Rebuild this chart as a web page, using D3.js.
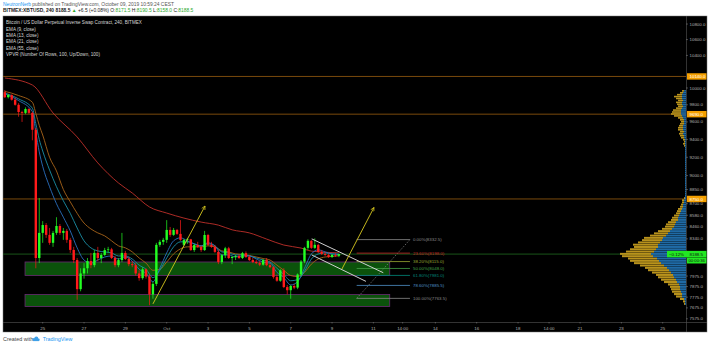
<!DOCTYPE html>
<html>
<head>
<meta charset="utf-8">
<title>XBTUSD 240</title>
<script src="https://cdn.jsdelivr.net/npm/d3@7/dist/d3.min.js"></script>
<style>
body { margin:0; background:#fff; }
svg { display:block; font-family:"Liberation Sans", Arial, sans-serif; }
</style>
</head>
<body>
<script>
// ---- data ----
var barStart = Date.UTC(2019, 8, 23, 4); // first 4h bar
var open  = [9950,9890,9915,9860,9800,9715,9705,9750,9705,9510,8150,8400,8480,8380,8300,8400,8470,8400,8420,8330,8230,8130,7850,8000,8050,8120,8080,8200,8150,8180,8228,8235,8150,8080,8130,8200,8140,8090,8080,8000,7955,8040,7970,7800,7900,8280,8310,8330,8430,8380,8430,8390,8280,8328,8335,8228,8278,8260,8228,8379,8280,8260,8210,8110,8178,8245,8150,8160,8170,8150,8198,8160,8130,8110,8100,8085,8130,8080,8060,7965,7930,8030,7870,7840,7880,7865,7990,8115,8250,8320,8250,8280,8210,8190,8180,8160,8180,8171.5];
var high  = [9975,9930,9925,9885,9820,9730,9770,9760,9720,9530,8760,8520,8500,8450,8420,8560,8490,8450,8440,8350,8260,8150,8050,8100,8150,8200,8230,8260,8200,8250,8260,8250,8170,8150,8400,8220,8160,8120,8100,8030,8060,8050,7990,7920,8300,8330,8350,8530,8460,8450,8440,8530,8340,8350,8340,8290,8310,8275,8420,8390,8310,8280,8230,8190,8260,8260,8170,8180,8190,8210,8215,8180,8150,8130,8120,8140,8150,8100,8070,7990,8040,8050,7890,7890,7900,8000,8130,8260,8335,8330,8345,8290,8230,8210,8195,8190,8195,8190.5];
var low   = [9880,9875,9850,9790,9660,9600,9690,9690,9390,8050,8100,8300,8350,8280,8260,8380,8380,8330,8300,8200,8100,7750,7830,7950,8000,8050,8060,8120,8100,8170,8200,8140,8060,8060,8110,8130,8070,8060,7980,7930,7940,7950,7700,7760,7880,8260,8280,8300,8360,8370,8380,8320,8270,8290,8220,8210,8250,8210,8220,8270,8250,8200,8090,8090,8150,8140,8090,8130,8140,8140,8150,8120,8100,8090,8070,8075,8070,8050,7950,7920,7920,7860,7800,7760,7850,7850,7970,8100,8230,8240,8240,8200,8180,8170,8150,8150,8160,8158];
var close = [9890,9915,9860,9800,9715,9705,9750,9705,9510,8150,8400,8480,8380,8300,8400,8470,8400,8420,8330,8230,8130,7850,8000,8050,8120,8080,8200,8150,8180,8228,8235,8150,8080,8130,8200,8140,8090,8080,8000,7955,8040,7970,7800,7900,8280,8310,8330,8430,8380,8430,8390,8330,8328,8335,8228,8278,8260,8228,8379,8280,8260,8210,8110,8178,8245,8150,8160,8170,8150,8198,8160,8130,8110,8100,8085,8130,8080,8060,7965,7930,8030,7870,7840,7880,7865,7990,8115,8250,8320,8250,8280,8210,8190,8180,8160,8180,8172,8188.5];

// EMA lines: [bar index, price]
var ema9  = [[0,9930],[4,9850],[8,9720],[9,9480],[10,9260],[11,9100],[13,8880],[15,8700],[17,8560],[19,8420],[21,8250],[23,8130],[25,8100],[27,8130],[29,8160],[31,8170],[33,8140],[35,8160],[37,8120],[39,8040],[41,8000],[43,7920],[45,8050],[47,8200],[49,8320],[51,8350],[53,8320],[55,8290],[57,8270],[59,8300],[61,8270],[63,8180],[65,8180],[67,8160],[69,8170],[71,8170],[73,8140],[75,8110],[77,8100],[79,8010],[81,7960],[83,7890],[85,7920],[87,8050],[89,8190],[91,8230],[93,8210],[95,8190],[97,8185]];
var ema13 = [[0,9940],[4,9870],[8,9760],[9,9580],[10,9400],[11,9270],[13,9060],[15,8880],[17,8730],[19,8600],[21,8450],[23,8320],[25,8250],[27,8220],[29,8210],[31,8200],[33,8170],[35,8170],[37,8140],[39,8080],[41,8040],[43,7960],[45,8030],[47,8150],[49,8260],[51,8310],[53,8310],[55,8290],[57,8270],[59,8290],[61,8270],[63,8210],[65,8200],[67,8180],[69,8180],[71,8170],[73,8150],[75,8130],[77,8110],[79,8050],[81,7990],[83,7930],[85,7940],[87,8020],[89,8140],[91,8190],[93,8200],[95,8190],[97,8188]];
var ema21 = [[0,9960],[4,9910],[8,9830],[9,9700],[10,9560],[11,9450],[13,9200],[15,9050],[17,8850],[19,8720],[21,8600],[23,8500],[25,8440],[27,8400],[29,8370],[31,8320],[33,8270],[35,8250],[37,8210],[39,8150],[41,8100],[43,8030],[45,8040],[47,8110],[49,8190],[51,8240],[53,8260],[55,8260],[57,8260],[59,8270],[61,8260],[63,8220],[65,8210],[67,8190],[69,8185],[71,8175],[73,8160],[75,8145],[77,8130],[79,8080],[81,8030],[83,7980],[85,7970],[87,8010],[89,8090],[91,8140],[93,8160],[95,8165],[97,8172]];
var ema55 = [[0,10121],[8,10036],[14,9704],[21,9428],[27,9138],[33,8920],[37,8813],[42,8666],[47,8603],[52,8551],[57,8510],[62,8479],[66,8431],[71,8400],[76,8338],[81,8278],[86,8248],[89,8218],[97,8201]];

// volume profile, 100 rows from low to high
var vpLow = 7700, vpHigh = 9975;
var vpUp   = [1,1,2,4,4,5,6,6,7,9,10,12,13,15,17,19,22,25,27,29,33,35,32,30,28,28,26,24,23,20,18,16,14,12,11,10,8,8,7,6,5,4,3,3,2,2,1,1,1,1,1,1,1,1,1,1,1,1,1,1,1,1,1,1,1,1,1,1,1,1,1,1,1,1,1,2,2,3,2,3,3,3,2,2,2,3,4,5,5,5,4,3,4,4,3,4,4,4,3,2];
var vpDown = [1,2,4,6,8,9,9,10,11,13,15,16,17,19,21,22,24,27,29,29,31,31,28,26,24,25,22,20,19,16,14,12,10,9,9,8,7,6,5,4,4,4,3,2,2,2,1,0,0,0,0,0,0,0,0,0,0,0,0,0,0,0,0,0,0,0,0,0,0,0,0,1,2,1,2,3,4,4,4,5,5,4,4,3,4,5,8,10,9,8,6,5,5,6,5,6,8,5,3,2];

var levels = [10140, 9690, 8750];
var lastPrice = 8188.5;

var priceTicks = [10800,10600,10400,10000,9800,9600,9400,9200,9000,8850,8700,8580,8460,8340,7975,7875,7775,7675,7575];
var timeTicks = [[2019,8,25,0],[2019,8,27,0],[2019,8,29,0],[2019,9,1,0],[2019,9,3,0],[2019,9,5,0],[2019,9,7,0],[2019,9,9,0],[2019,9,11,0],[2019,9,12,10],[2019,9,14,0],[2019,9,16,0],[2019,9,18,0],[2019,9,19,12],[2019,9,21,0],[2019,9,23,0],[2019,9,25,0]];
var timeLabels = ["25","27","29","Oct","3","5","7","9","11","14:00","14","16","18","14:00","21","23","25"];

// drawings: [time (y,m,d,h), price]
var boxes = [[[2019,8,24,3.5],8111,[2019,9,11,19],7980],[[2019,8,24,3.5],7800,[2019,9,11,19],7688]];
var arrows = [[[2019,8,30,8],7712,[2019,9,2,20.5],8676],[[2019,9,9,11.5],8043,[2019,9,11,0.7],8661]];
var channel = [[[2019,9,8,0.4],8340,[2019,9,11,11.5],8007],[[2019,9,8,0.4],8180,[2019,9,10,15.4],7924]];
var fibFrom = [2019,9,10,4.6], fibTo = [2019,9,12,18.5];
var fibPct = ["0.00%","23.60%","38.20%","50.00%","61.80%","78.60%","100.00%"];
var fibPrice = [8332.5,8198.0,8115.0,8048.0,7981.0,7885.5,7763.5];
var fibColor = ["#8a8a8a","#c62828","#9aa832","#43a047","#00897b","#4f92c9","#8a8a8a"];

// ---- layout ----
var W = 710, H = 346;
var plot = {left:3, right:686, top:16, bottom:322};
var panel = {right:707, bottom:332};

function utc(a) { return new Date(Date.UTC(a[0], a[1], a[2], 0) + a[3]*3600e3); }

var svg = d3.select("body").append("svg").attr("width", W).attr("height", H);
svg.append("rect").attr("width", W).attr("height", H).attr("fill", "#fff");

var x = d3.scaleUtc().domain([utc([2019,8,25,0]), utc([2019,9,25,0])]).range([42.7, 662.7]);
var y = d3.scaleLog().domain([10000, 7575]).range([88, 318.8]);
var barX = function(i) { return x(new Date(barStart + i*4*3600e3)); };

// header
var hdr = svg.append("g").attr("font-size", "4.9px");
var t1 = hdr.append("text").attr("x", 3).attr("y", 6.4).attr("fill", "#555");
t1.append("tspan").attr("fill", "#2196f3").text("NeutronNerb");
t1.append("tspan").text(" published on TradingView.com, October 09, 2019 10:59:24 CEST");
var t2 = hdr.append("text").attr("x", 3).attr("y", 12.4).attr("fill", "#222");
t2.append("tspan").attr("font-weight", "bold").text("BITMEX:XBTUSD, 240 8188.5 ");
t2.append("tspan").attr("fill", "#2eaa2e").text("\u25B2");
t2.append("tspan").text(" +6.5 (+0.08%) O:");
t2.append("tspan").attr("fill", "#2eaa2e").text("8171.5");
t2.append("tspan").text(" H:");
t2.append("tspan").attr("fill", "#2eaa2e").text("8190.5");
t2.append("tspan").text(" L:");
t2.append("tspan").attr("fill", "#2eaa2e").text("8158.0");
t2.append("tspan").text(" C:");
t2.append("tspan").attr("fill", "#2eaa2e").text("8188.5");

// panel
svg.append("rect").attr("x", plot.left).attr("y", plot.top)
  .attr("width", panel.right - plot.left).attr("height", panel.bottom - plot.top)
  .attr("fill", "#000").attr("stroke", "#777").attr("stroke-width", 0.5);

svg.append("clipPath").attr("id", "clip").append("rect")
  .attr("x", plot.left).attr("y", plot.top)
  .attr("width", plot.right - plot.left).attr("height", plot.bottom - plot.top);
var g = svg.append("g").attr("clip-path", "url(#clip)");

// horizontal levels
g.selectAll(".lvl").data(levels).join("line")
  .attr("x1", plot.left).attr("x2", plot.right)
  .attr("y1", d => y(d)).attr("y2", d => y(d))
  .attr("stroke", "#7a4a0c").attr("stroke-width", 1);
g.append("line").attr("x1", plot.left).attr("x2", plot.right)
  .attr("y1", y(lastPrice)).attr("y2", y(lastPrice))
  .attr("stroke", "#1f6b1f").attr("stroke-width", 0.8);

// volume profile
var vpStep = (vpHigh - vpLow) / vpUp.length;
var vx = d3.scaleLinear().domain([0, d3.max(vpUp.map((u, k) => u + vpDown[k]))]).range([0, 66]);
var vp = g.append("g");
vpUp.forEach(function(u, k) {
  var lo = vpLow + k*vpStep, hi = lo + vpStep;
  var y0 = y(hi), hgt = Math.max(0.6, y(lo) - y(hi) - 0.3);
  vp.append("rect").attr("x", plot.right - vx(u)).attr("y", y0).attr("width", vx(u)).attr("height", hgt).attr("fill", "#1f6aa5");
  vp.append("rect").attr("x", plot.right - vx(u) - vx(vpDown[k])).attr("y", y0).attr("width", vx(vpDown[k])).attr("height", hgt).attr("fill", "#b8921c");
});

// boxes
g.selectAll(".box").data(boxes).join("rect")
  .attr("x", d => x(utc(d[0]))).attr("y", d => y(d[1]))
  .attr("width", d => x(utc(d[2])) - x(utc(d[0])))
  .attr("height", d => y(d[3]) - y(d[1]))
  .attr("fill", "#0b520b").attr("stroke", "#6a2a74").attr("stroke-width", 0.8);

// EMAs
var emaLine = d3.line().x(d => barX(d[0])).y(d => y(d[1])).curve(d3.curveMonotoneX);
[[ema55, "#c0302a"], [ema21, "#a8641a"], [ema13, "#1b8fa6"], [ema9, "#2a6fc0"]].forEach(function(e) {
  g.append("path").datum(e[0]).attr("d", emaLine).attr("fill", "none").attr("stroke", e[1]).attr("stroke-width", 0.9);
});

// candles
var bw = 2.4;
var candles = g.append("g");
open.forEach(function(o, i) {
  var c = close[i], col = c >= o ? "#22ff22" : "#ff1a1a", cx = barX(i);
  candles.append("line").attr("x1", cx).attr("x2", cx).attr("y1", y(high[i])).attr("y2", y(low[i]))
    .attr("stroke", col).attr("stroke-width", 0.7);
  candles.append("rect").attr("x", cx - bw/2).attr("y", y(Math.max(o, c)))
    .attr("width", bw).attr("height", Math.max(0.6, Math.abs(y(o) - y(c)))).attr("fill", col);
});

// fib retracement
var fx1 = x(utc(fibFrom)), fx2 = x(utc(fibTo));
g.append("line").attr("x1", fx1).attr("y1", y(fibPrice[6])).attr("x2", fx2).attr("y2", y(fibPrice[0]))
  .attr("stroke", "#8a8a8a").attr("stroke-width", 0.7).attr("stroke-dasharray", "1.5,1.5");
fibPrice.forEach(function(p, k) {
  g.append("line").attr("x1", fx1).attr("x2", fx2).attr("y1", y(p)).attr("y2", y(p))
    .attr("stroke", fibColor[k]).attr("stroke-width", 0.8);
  g.append("text").attr("x", fx2 + 3).attr("y", y(p) + 1.5).attr("font-size", "4.4px")
    .attr("fill", fibColor[k]).text(fibPct[k] + "(" + p.toFixed(1) + ")");
});

// channel
g.selectAll(".ch").data(channel).join("line")
  .attr("x1", d => x(utc(d[0]))).attr("y1", d => y(d[1]))
  .attr("x2", d => x(utc(d[2]))).attr("y2", d => y(d[3]))
  .attr("stroke", "#d0d0d0").attr("stroke-width", 1);

// arrows
svg.append("defs").append("marker").attr("id", "ah").attr("viewBox", "0 0 10 10")
  .attr("refX", 9).attr("refY", 5).attr("markerWidth", 5).attr("markerHeight", 5).attr("orient", "auto")
  .append("path").attr("d", "M1,1 L9,5 L1,9").attr("fill", "none").attr("stroke", "#d8c81e").attr("stroke-width", 1.5);
g.selectAll(".arr").data(arrows).join("line")
  .attr("x1", d => x(utc(d[0]))).attr("y1", d => y(d[1]))
  .attr("x2", d => x(utc(d[2]))).attr("y2", d => y(d[3]))
  .attr("stroke", "#d8c81e").attr("stroke-width", 0.9).attr("marker-end", "url(#ah)");

// legend
var legend = ["Bitcoin / US Dollar Perpetual Inverse Swap Contract, 240, BITMEX", "EMA (9, close)", "EMA (13, close)", "EMA (21, close)", "EMA (55, close)", "VPVR (Number Of Rows, 100, Up/Down, 100)"];
svg.selectAll(".leg").data(legend).join("text")
  .attr("x", 6).attr("y", (d, i) => 24.4 + i*6.3).attr("font-size", "4.6px").attr("fill", "#d6d6d6").text(d => d);

// price axis
svg.append("line").attr("x1", plot.right + 0.5).attr("x2", plot.right + 0.5).attr("y1", plot.top).attr("y2", panel.bottom)
  .attr("stroke", "#555").attr("stroke-width", 0.6);
svg.append("line").attr("x1", plot.left).attr("x2", panel.right).attr("y1", plot.bottom + 0.5).attr("y2", plot.bottom + 0.5)
  .attr("stroke", "#555").attr("stroke-width", 0.6);
var pa = svg.append("g");
priceTicks.forEach(function(p) {
  pa.append("line").attr("x1", plot.right).attr("x2", plot.right + 2).attr("y1", y(p)).attr("y2", y(p)).attr("stroke", "#888").attr("stroke-width", 0.5);
  pa.append("text").attr("x", 689.5).attr("y", y(p) + 1.5).attr("font-size", "4.4px").attr("fill", "#b0b0b0").text(p.toFixed(1));
});
levels.forEach(function(p) {
  pa.append("rect").attr("x", 687).attr("y", y(p) - 3.2).attr("width", 19.5).attr("height", 6.4).attr("fill", "#f5a000");
  pa.append("text").attr("x", 689.5).attr("y", y(p) + 1.6).attr("font-size", "4.4px").attr("fill", "#fff").text(p.toFixed(1));
});
pa.append("rect").attr("x", 667).attr("y", y(lastPrice) - 3.2).attr("width", 39.5).attr("height", 6.4).attr("fill", "#22e822");
pa.append("text").attr("x", 669).attr("y", y(lastPrice) + 1.6).attr("font-size", "4.4px").attr("fill", "#111").text("\u22120.12%");
pa.append("text").attr("x", 689.5).attr("y", y(lastPrice) + 1.6).attr("font-size", "4.4px").attr("fill", "#111").text(lastPrice.toFixed(1));
pa.append("rect").attr("x", 687).attr("y", y(lastPrice) + 3.4).attr("width", 19.5).attr("height", 6).attr("fill", "#22e822");
pa.append("text").attr("x", 688.5).attr("y", y(lastPrice) + 7.9).attr("font-size", "4.2px").attr("fill", "#111").text("00:00:36");

// time axis
timeTicks.forEach(function(t, k) {
  var tx = x(utc(t));
  svg.append("line").attr("x1", tx).attr("x2", tx).attr("y1", plot.bottom).attr("y2", plot.bottom + 1.5).attr("stroke", "#888").attr("stroke-width", 0.5);
  svg.append("text").attr("x", tx).attr("y", 329.5).attr("text-anchor", "middle").attr("font-size", "4.4px").attr("fill", "#b0b0b0").text(timeLabels[k]);
});

// footer
var ft = svg.append("text").attr("x", 3).attr("y", 341).attr("font-size", "5.4px").attr("fill", "#444");
ft.append("tspan").text("Created with ");
ft.append("tspan").attr("fill", "#2196f3").attr("dx", 8).text("TradingView");
var cloud = svg.append("g").attr("fill", "#3ea0e8");
[[34, 339.5, 1.6], [36.3, 338.6, 2], [38.4, 339.8, 1.3]].forEach(c => cloud.append("circle").attr("cx", c[0]).attr("cy", c[1]).attr("r", c[2]));
cloud.append("rect").attr("x", 33).attr("y", 339.3).attr("width", 6).attr("height", 1.8);
</script>
</body>
</html>
